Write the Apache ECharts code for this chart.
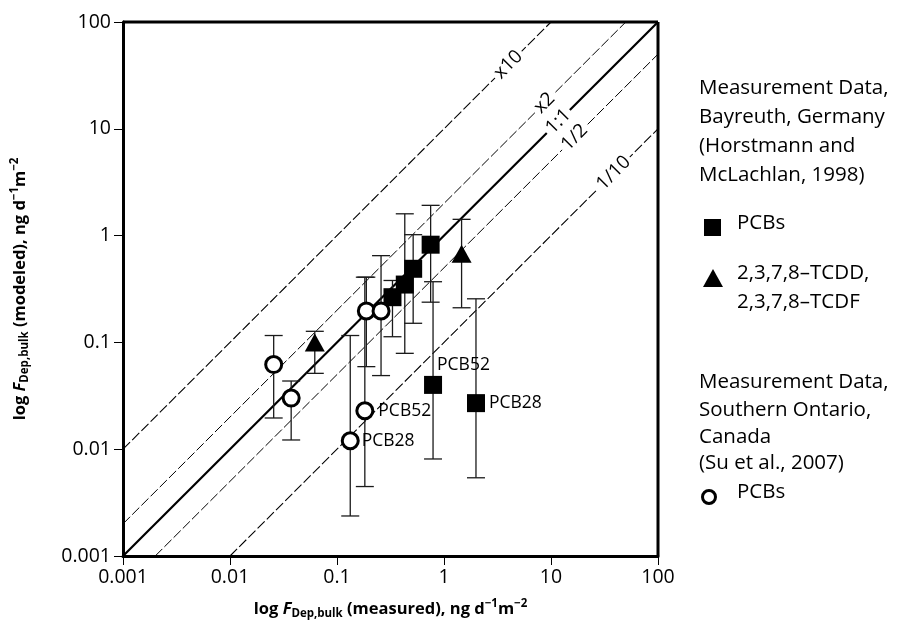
<!DOCTYPE html>
<html>
<head>
<meta charset="utf-8">
<script src="https://cdn.jsdelivr.net/npm/echarts@6/dist/echarts.min.js"></script>
<style>html,body{margin:0;padding:0;background:#fff}#c{width:898px;height:633px}</style>
</head>
<body>
<div id="c"></div>
<script>
// ---- Data ----
var tickValues = [0.001, 0.01, 0.1, 1, 10, 100];
var tickLabels = ['0.001', '0.01', '0.1', '1', '10', '100'];

// Bayreuth PCBs (squares)
var sqX    = [0.33, 0.43, 0.515, 0.75, 0.79, 1.99];
var sqY    = [0.265, 0.348, 0.489, 0.822, 0.040, 0.027];
var sqLow  = [0.113, 0.079, 0.151, 0.238, 0.0081, 0.0054];
var sqHigh = [0.38, 1.6, 1.02, 1.92, 0.37, 0.256];
var sqLabel = ['', '', '', '', 'PCB52', 'PCB28'];

// Bayreuth TCDD/TCDF (triangles)
var trX    = [0.062, 1.46];
var trY    = [0.100, 0.676];
var trLow  = [0.0513, 0.211];
var trHigh = [0.127, 1.42];

// Southern Ontario PCBs (circles)
var ciX    = [0.0256, 0.0373, 0.188, 0.258, 0.182, 0.133];
var ciY    = [0.062, 0.0301, 0.197, 0.197, 0.0229, 0.0120];
var ciLow  = [0.0196, 0.0122, 0.0593, 0.0489, 0.00447, 0.00237];
var ciHigh = [0.116, 0.0435, 0.408, 0.649, 0.408, 0.116];
var ciLabel = ['', '', '', '', 'PCB52', 'PCB28'];

// Reference lines (endpoints in data units)
var lineX10   = [[0.001, 0.01], [10, 100]];
var lineX2    = [[0.001, 0.002], [50, 100]];
var line11    = [[0.001, 0.001], [100, 100]];
var lineHalf  = [[0.002, 0.001], [100, 50]];
var lineTenth = [[0.01, 0.001], [100, 10]];
var refNames  = ['x10', 'x2', '1:1', '1/2', '1/10'];
var refLabelAt = [[3.99, 39.9], [8.71, 17.4], [11.7, 11.7], [16.6, 8.3], [38.5, 3.85]];

// ---- Chart ----
var FONT = 'Open Sans';
var chart = echarts.init(document.getElementById('c'), null, {renderer: 'canvas'});

function zip(xs, ys) { return xs.map(function (x, i) { return [x, ys[i]]; }); }
function errData(xs, lo, hi) { return xs.map(function (x, i) { return [x, lo[i], hi[i]]; }); }

function errSeries(data) {
  return {
    type: 'custom', data: data, z: 3, silent: true,
    encode: {x: 0, y: [1, 2]},
    renderItem: function (params, api) {
      var x = api.value(0);
      var p1 = api.coord([x, api.value(1)]);
      var p2 = api.coord([x, api.value(2)]);
      var hw = 9;
      var st = {stroke: '#1a1a1a', lineWidth: 1.3};
      return {type: 'group', children: [
        {type: 'line', shape: {x1: p1[0], y1: p1[1], x2: p2[0], y2: p2[1]}, style: st},
        {type: 'line', shape: {x1: p1[0] - hw, y1: p1[1], x2: p1[0] + hw, y2: p1[1]}, style: st},
        {type: 'line', shape: {x1: p2[0] - hw, y1: p2[1], x2: p2[0] + hw, y2: p2[1]}, style: st}
      ]};
    }
  };
}

function refLine(pts, width, dashed) {
  return {
    type: 'line', data: pts, symbol: 'none', z: 1, silent: true,
    lineStyle: {color: '#000', width: width, type: dashed ? [10, 3] : 'solid', opacity: 1}
  };
}

function labeled(xs, ys, labels, offsets) {
  return xs.map(function (x, i) {
    var item = {value: [x, ys[i]]};
    if (labels[i]) {
      item.label = {show: true, formatter: labels[i], position: 'right',
        offset: offsets[i] || [0, 0], fontFamily: FONT, fontSize: 17.5, color: '#000'};
    }
    return item;
  });
}

var sqOffsets = [null, null, null, null, [-10, -20], [-1, 0]];
var ciOffsets = [null, null, null, null, [-1, 0], [-3, 0]];

var supStyle = {fontFamily: FONT, fontWeight: 'bold', fontSize: 11.5, verticalAlign: 'top', lineHeight: 22, color: '#000'};
var subStyle = {fontFamily: FONT, fontWeight: 'bold', fontSize: 11.5, verticalAlign: 'bottom', lineHeight: 22, color: '#000'};
var baseStyle = {fontFamily: FONT, fontWeight: 'bold', fontSize: 16.5, lineHeight: 22, color: '#000'};
var italStyle = {fontFamily: FONT, fontWeight: 'bold', fontStyle: 'italic', fontSize: 16.5, lineHeight: 22, color: '#000'};
var richName = {a: baseStyle, f: italStyle, s: subStyle, p: supStyle};

function axisCommon() {
  return {
    type: 'log', logBase: 10, min: 0.001, max: 100,
    nameLocation: 'middle',
    nameTextStyle: {rich: richName},
    axisLine: {show: true, onZero: false, lineStyle: {color: '#000', width: 3}},
    axisTick: {show: true, inside: false, length: 9, lineStyle: {color: '#000', width: 1}},
    minorTick: {show: false},
    splitLine: {show: false},
    axisLabel: {
      fontFamily: FONT, fontSize: 19.5, color: '#000',
      formatter: function (v) {
        for (var i = 0; i < tickValues.length; i++) {
          if (Math.abs(Math.log10(v) - Math.log10(tickValues[i])) < 1e-6) return tickLabels[i];
        }
        return '';
      }
    }
  };
}

var xAxis = axisCommon();
xAxis.name = '{a|log }{f|F}{s|Dep,bulk}{a| (measured), ng d}{p|−1}{a|m}{p|−2}';
xAxis.nameGap = 42;
xAxis.axisLabel.margin = 11;

var yAxis = axisCommon();
yAxis.name = '{a|log }{f|F}{s|Dep,bulk}{a| (modeled), ng d}{p|−1}{a|m}{p|−2}';
yAxis.nameGap = 92;
yAxis.nameRotate = 90;
yAxis.axisLabel.margin = 12;

var series = [
  refLine(lineX10, 1.1, true),
  refLine(lineX2, 1, true),
  refLine(line11, 2.2, false),
  refLine(lineHalf, 1, true),
  refLine(lineTenth, 1.1, true),
  {
    type: 'scatter', z: 2, silent: true, symbolSize: 0,
    itemStyle: {opacity: 1},
    data: refLabelAt.map(function (p, i) {
      return {value: p, label: {show: true, formatter: refNames[i], position: 'inside', rotate: 45,
        fontFamily: FONT, fontSize: 19, color: '#000', backgroundColor: '#fff', padding: [0, 3]}};
    })
  },
  errSeries(errData(sqX, sqLow, sqHigh)),
  errSeries(errData(trX, trLow, trHigh)),
  errSeries(errData(ciX, ciLow, ciHigh)),
  {
    type: 'scatter', z: 5, symbol: 'rect', symbolSize: 18,
    itemStyle: {color: '#000', opacity: 1},
    data: labeled(sqX, sqY, sqLabel, sqOffsets)
  },
  {
    type: 'scatter', z: 5, symbol: 'triangle', symbolSize: [20, 18],
    itemStyle: {color: '#000', opacity: 1},
    data: zip(trX, trY)
  },
  {
    type: 'scatter', z: 6, symbol: 'circle', symbolSize: 16,
    itemStyle: {color: '#fff', borderColor: '#000', borderWidth: 3, opacity: 1},
    data: labeled(ciX, ciY, ciLabel, ciOffsets)
  }
];

var legendText = {fontFamily: FONT, fontSize: 20.5, fill: '#000'};
function txt(x, y, s) {
  return {type: 'text', left: x, top: y, style: Object.assign({text: s}, legendText)};
}
var graphic = [
  // top/right frame
  {type: 'line', shape: {x1: 123, y1: 22, x2: 658, y2: 22}, style: {stroke: '#000', lineWidth: 3}},
  {type: 'line', shape: {x1: 658, y1: 22, x2: 658, y2: 556}, style: {stroke: '#000', lineWidth: 3}},
  txt(699, 78, 'Measurement Data,'),
  txt(699, 107, 'Bayreuth, Germany'),
  txt(699, 136, '(Horstmann and'),
  txt(699, 165, 'McLachlan, 1998)'),
  {type: 'rect', shape: {x: 704, y: 219, width: 17, height: 17}, style: {fill: '#000'}},
  txt(737, 213, 'PCBs'),
  {type: 'polygon', shape: {points: [[713, 269], [723, 287], [703, 287]]}, style: {fill: '#000'}},
  txt(737, 263, '2,3,7,8–TCDD,'),
  txt(737, 292, '2,3,7,8–TCDF'),
  txt(699, 372, 'Measurement Data,'),
  txt(699, 400, 'Southern Ontario,'),
  txt(699, 427, 'Canada'),
  txt(699, 453, '(Su et al., 2007)'),
  {type: 'circle', shape: {cx: 709, cy: 497, r: 6.5}, style: {fill: '#fff', stroke: '#000', lineWidth: 3}},
  txt(737, 482, 'PCBs')
];

chart.setOption({
  animation: false,
  backgroundColor: '#fff',
  grid: {left: 123, top: 22, width: 535, height: 534, containLabel: false},
  xAxis: xAxis,
  yAxis: yAxis,
  series: series,
  graphic: graphic
});
</script>
</body>
</html>
